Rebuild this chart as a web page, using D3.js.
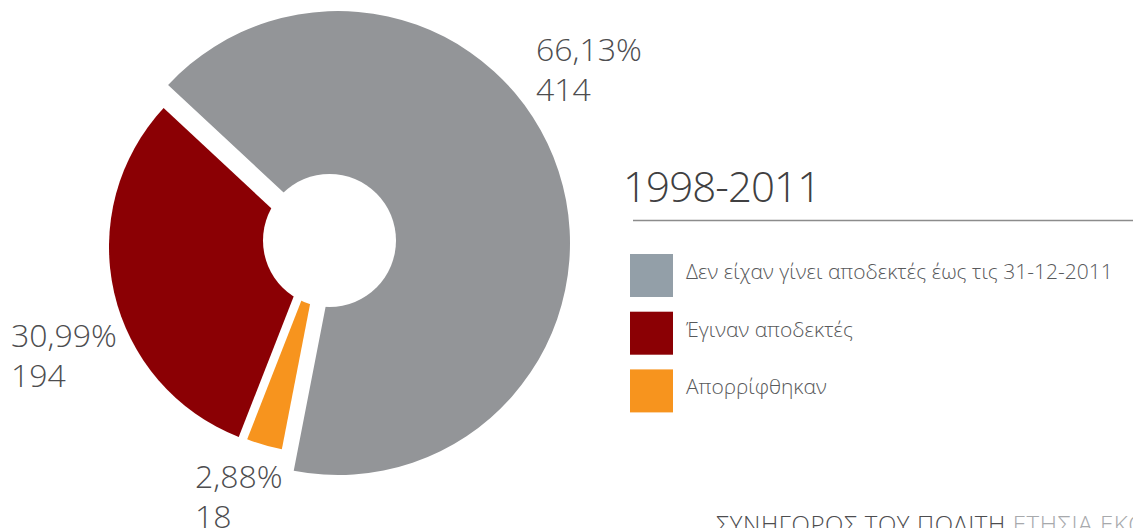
<!DOCTYPE html>
<html>
<head>
<meta charset="utf-8">
<script src="https://cdn.jsdelivr.net/npm/d3@7"></script>
<style>
  html, body { margin: 0; padding: 0; background: #ffffff; }
  svg { display: block; }
  text { font-family: "Open Sans", "Noto Sans", "DejaVu Sans", sans-serif; font-weight: 300; }
</style>
</head>
<body>
<svg id="chart" width="1133" height="528"></svg>
<script>
// ---- data ----
const categories = ["Δεν είχαν γίνει αποδεκτές έως τις 31-12-2011", "Έγιναν αποδεκτές", "Απορρίφθηκαν"];
const values = [414, 194, 18];
const percentLabels = ["66,13%", "30,99%", "2,88%"];
const title = "1998-2011";
const footerDark = "ΣΥΝΗΓΟΡΟΣ ΤΟΥ ΠΟΛΙΤΗ";
const footerLight = "ΕΤΗΣΙΑ ΕΚΘΕΣΗ 2011";

// ---- style / layout ----
const sliceColors = ["#939598", "#8b0004", "#f7941e"];
const legendColors = ["#939fa8", "#8b0004", "#f7941e"];
const center = { x: 329.5, y: 240.5 };
const holeRadius = 66.5;
// explode offsets and outer radii per slice (layout only)
const sliceLayout = [
  { dx: 8.5, dy: 2.5, r: 232 },
  { dx: -16.5, dy: 6.5, r: 204 },
  { dx: -9.5, dy: 12.5, r: 200 }
];
const labelPos = [
  { x: 536, y: 61 },
  { x: 11, y: 347 },
  { x: 195, y: 488 }
];

const svg = d3.select("#chart");

const startDeg = 191;
const pie = d3.pie().sort(null).value(d => d)
  .startAngle(startDeg * Math.PI / 180)
  .endAngle((startDeg - 360) * Math.PI / 180);
const arcs = pie(values);

const gPie = svg.append("g");
arcs.forEach((a, i) => {
  const L = sliceLayout[i];
  const arc = d3.arc().innerRadius(0).outerRadius(L.r);
  gPie.append("path")
    .attr("transform", `translate(${center.x + L.dx},${center.y + L.dy})`)
    .attr("d", arc(a))
    .attr("fill", sliceColors[i]);
});
gPie.append("circle")
  .attr("cx", center.x).attr("cy", center.y).attr("r", holeRadius)
  .attr("fill", "#ffffff");

// slice labels
const gLab = svg.append("g");
values.forEach((v, i) => {
  const t = gLab.append("text")
    .attr("x", labelPos[i].x).attr("y", labelPos[i].y)
    .attr("font-size", 32).attr("fill", "#4d4d4f");
  t.append("tspan").attr("x", labelPos[i].x).text(percentLabels[i]);
  t.append("tspan").attr("x", labelPos[i].x).attr("dy", 39.5).text(d3.format("d")(v));
});

// title
svg.append("text")
  .attr("x", 623).attr("y", 202)
  .attr("font-size", 42).attr("letter-spacing", -0.9).attr("fill", "#404041")
  .text(title);
svg.append("line")
  .attr("x1", 633).attr("x2", 1133).attr("y1", 220.5).attr("y2", 220.5)
  .attr("stroke", "#8c8c8c").attr("stroke-width", 1.5);

// legend
const legendY = d3.scaleLinear().domain([0, 1]).range([254, 311.7]);
const gLeg = svg.append("g");
categories.forEach((c, i) => {
  gLeg.append("rect")
    .attr("x", 630).attr("y", legendY(i))
    .attr("width", 43).attr("height", 43)
    .attr("fill", legendColors[i]);
  gLeg.append("text")
    .attr("x", 686).attr("y", legendY(i) + 25)
    .attr("font-size", 21).attr("fill", "#58595b")
    .text(c);
});

// footer
const ft = svg.append("text")
  .attr("x", 716).attr("y", 533)
  .attr("font-size", 24).attr("letter-spacing", 0.6);
ft.append("tspan").attr("fill", "#4d4d4f").text(footerDark + " ");
ft.append("tspan").attr("fill", "#a7a9ac").text(footerLight);
</script>
</body>
</html>
